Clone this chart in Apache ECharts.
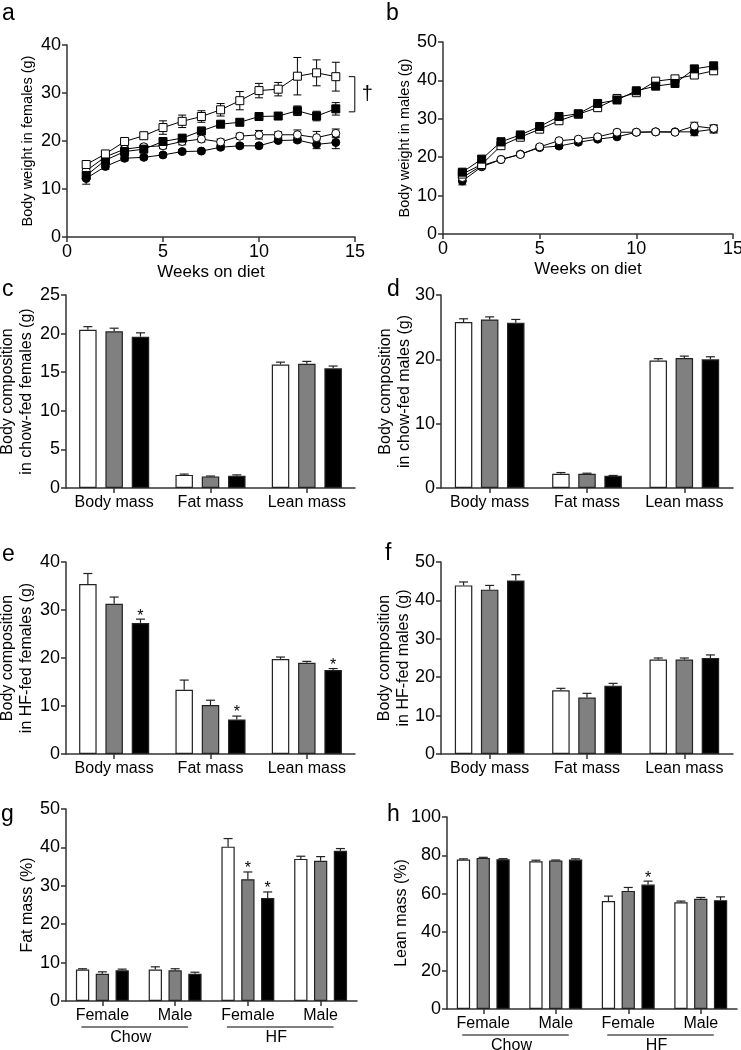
<!DOCTYPE html>
<html><head><meta charset="utf-8">
<script src="https://cdn.jsdelivr.net/npm/echarts@6/dist/echarts.min.js"></script>
<style>html,body{margin:0;padding:0;background:#fff}#c{width:741px;height:1050px}</style>
</head><body><div id="c"></div>
<script>
// ---------- DATA ----------
const weeks = [1,2,3,4,5,6,7,8,9,10,11,12,13,14];
const weekTicks = [0,5,10,15];
// Panel a: females body weight
const aOpenSq    = [15.1,17.3,19.9,21.1,22.8,24.1,25.1,26.5,28.4,30.5,30.8,33.5,34.2,33.4];
const aOpenSqErr = [0.6,0.5,0.5,0.5,1.4,1.3,1.2,1.3,1.9,1.5,1.4,3.9,2.7,3.0];
const aFillSq    = [12.8,16.0,17.8,18.3,19.9,20.6,22.1,23.5,23.9,25.1,25.2,26.3,25.2,26.7];
const aFillSqErr = [0.6,0.5,0.5,0.5,0.6,0.6,0.6,0.6,0.6,0.7,0.7,1.0,1.0,1.3];
const aOpenCi    = [13.8,16.7,18.3,18.8,19.0,19.9,20.4,19.8,21.0,21.3,21.3,21.3,20.7,21.6];
const aOpenCiErr = [0.6,0.5,0.5,0.5,0.6,0.7,0.6,0.6,0.6,0.9,0.6,1.0,1.3,0.9];
const aFillCi    = [12.2,14.7,16.4,16.6,17.1,17.8,17.9,18.7,19.0,19.0,20.1,20.2,19.3,19.7];
const aFillCiErr = [1.2,0.6,0.5,0.4,0.4,0.4,0.4,0.4,0.4,0.4,0.4,0.5,0.9,1.3];
// Panel b: males body weight
const bFillSq    = [16.1,19.5,24.0,25.8,28.0,30.6,31.3,34.0,34.9,37.3,38.5,39.2,43.0,43.8];
const bFillSqErr = [0.7,0.7,1.0,0.6,0.6,0.6,0.6,0.7,0.7,0.7,0.7,0.7,0.8,0.8];
const bOpenSq    = [15.6,18.1,23.0,25.2,27.3,29.5,31.2,32.9,35.3,36.8,39.8,40.4,41.4,42.5];
const bOpenSqErr = [0.7,0.6,0.8,0.6,0.6,0.6,0.6,0.7,0.7,0.7,0.7,0.7,0.8,0.8];
const bOpenCi    = [14.7,17.8,19.4,20.7,22.7,24.3,24.7,25.3,26.5,26.5,26.6,26.5,28.1,27.5];
const bOpenCiErr = [0.8,0.5,0.5,0.5,0.5,0.5,0.5,0.5,0.6,0.5,0.5,0.5,1.0,0.9];
const bFillCi    = [13.8,17.5,19.4,20.8,22.5,22.9,23.9,24.7,25.3,26.5,26.6,26.6,26.6,27.3];
const bFillCiErr = [1.0,0.5,0.5,0.5,0.5,0.5,0.5,0.5,0.5,0.5,0.5,0.5,1.0,1.0];
// Body composition categories
const compCats = ['Body mass','Fat mass','Lean mass'];
// c: chow-fed females
const cWhite=[20.5,1.7,16.0], cWhiteErr=[0.4,0.1,0.3];
const cGray =[20.3,1.5,16.1], cGrayErr =[0.4,0.05,0.3];
const cBlack=[19.6,1.6,15.5], cBlackErr=[0.5,0.1,0.3];
// d: chow-fed males
const dWhite=[25.8,2.2,19.8], dWhiteErr=[0.5,0.2,0.3];
const dGray =[26.2,2.2,20.2], dGrayErr =[0.4,0.1,0.3];
const dBlack=[25.7,1.9,20.0], dBlackErr=[0.5,0.05,0.4];
// e: HF-fed females
const eWhite=[35.4,13.4,19.8], eWhiteErr=[2.2,2.0,0.4];
const eGray =[31.3,10.2,19.0], eGrayErr =[1.4,1.0,0.3];
const eBlack=[27.3,7.2,17.5],  eBlackErr=[0.8,0.7,0.3];
const eBlackStar=[1,1,1];
// f: HF-fed males
const fWhite=[43.9,16.6,24.6], fWhiteErr=[0.9,0.5,0.4];
const fGray =[42.8,14.7,24.6], fGrayErr =[1.1,1.1,0.4];
const fBlack=[45.2,17.8,25.0], fBlackErr=[1.5,0.6,0.8];
// g, h: percentages
const sexCats = ['Female','Male','Female','Male'];
const dietGroups = ['Chow','HF'];
const gWhite=[8.2,8.2,40.2,37.0], gWhiteErr=[0.2,0.7,2.1,0.7];
const gGray =[7.1,8.0,31.7,36.5], gGrayErr =[0.5,0.4,1.9,1.1];
const gBlack=[8.0,7.1,26.8,39.1], gBlackErr=[0.3,0.4,1.6,0.6];
const gGrayStar=[0,0,1,0], gBlackStar=[0,0,1,0];
const hWhite=[77.8,76.9,56.2,55.6], hWhiteErr=[0.4,0.6,2.6,0.6];
const hGray =[78.7,77.3,61.5,57.4], hGrayErr =[0.3,0.3,1.8,0.7];
const hBlack=[78.0,77.8,64.8,56.7], hBlackErr=[0.3,0.4,1.8,1.7];
const hBlackStar=[0,0,1,0];
const panelLetters = ['a','b','c','d','e','f','g','h'];

// ---------- STYLE / LAYOUT ----------
const FF = '"Liberation Sans", Arial, Helvetica, sans-serif';
const AX = '#333';
const grids = [
  {left:67, top:45, width:288, height:192},
  {left:443, top:42, width:290, height:192},
  {left:66, top:295, width:289, height:193},
  {left:441, top:295, width:292, height:193},
  {left:66, top:562, width:289, height:192},
  {left:441, top:562, width:292, height:192},
  {left:66, top:809, width:291, height:192},
  {left:447, top:817, width:290, height:192}
];
const letterPos = [[2,14],[386,14],[2,290],[387,290],[2,555],[385,554],[1,815],[387,815]];

const xAxes = [], yAxes = [], series = [];

function axisBase(){
  return {
    axisLine:{show:true, onZero:false, lineStyle:{color:AX, width:1.5}},
    axisTick:{show:true, inside:false, length:5, lineStyle:{color:AX, width:1.5}},
    splitLine:{show:false},
    nameMoveOverlap:false
  };
}
function yAxis(gi, max, interval, name, nameGap, nameSize, labelSize){
  yAxes.push(Object.assign(axisBase(), {
    type:'value', gridIndex:gi, min:0, max:max, interval:interval,
    axisLabel:{color:'#000', fontFamily:FF, fontSize:labelSize, margin:6},
    name:name, nameLocation:'middle', nameGap:nameGap,
    nameTextStyle:{color:'#000', fontFamily:FF, fontSize:nameSize, lineHeight:Math.round(nameSize*1.18)}
  }));
}
function xValueAxis(gi){
  xAxes.push(Object.assign(axisBase(), {
    type:'value', gridIndex:gi, min:weekTicks[0], max:weekTicks[weekTicks.length-1], interval:weekTicks[1]-weekTicks[0],
    axisLabel:{color:'#000', fontFamily:FF, fontSize:18, margin:6},
    name:'Weeks on diet', nameLocation:'middle', nameGap:27,
    nameTextStyle:{color:'#000', fontFamily:FF, fontSize:17}
  }));
}
function xCatAxis(gi, cats){
  const ax = Object.assign(axisBase(), {
    type:'category', gridIndex:gi, data:cats, boundaryGap:true,
    axisLabel:{color:'#000', fontFamily:FF, fontSize:16, margin:7, interval:0}
  });
  ax.axisTick.alignWithLabel = true;
  ax.axisTick.interval = 0;
  xAxes.push(ax);
}

function lineErr(gi, vals, errs, z){
  series.push({
    type:'custom', xAxisIndex:gi, yAxisIndex:gi, z:z, silent:true,
    encode:{x:0, y:1},
    data: weeks.map((w,i)=>[w, vals[i], errs[i]]),
    renderItem:function(params, api){
      const x=api.value(0), v=api.value(1), e=api.value(2);
      const t=api.coord([x, v+e]), b=api.coord([x, v-e]);
      const cw=4, st={stroke:'#000', lineWidth:1};
      return {type:'group', children:[
        {type:'line', shape:{x1:t[0],y1:t[1],x2:b[0],y2:b[1]}, style:st},
        {type:'line', shape:{x1:t[0]-cw,y1:t[1],x2:t[0]+cw,y2:t[1]}, style:st},
        {type:'line', shape:{x1:b[0]-cw,y1:b[1],x2:b[0]+cw,y2:b[1]}, style:st}
      ]};
    }
  });
}
function lineSer(gi, vals, symbol, filled, z){
  series.push({
    type:'line', xAxisIndex:gi, yAxisIndex:gi, z:z,
    data: weeks.map((w,i)=>[w, vals[i]]),
    symbol:symbol, symbolSize:8, showSymbol:true, showAllSymbol:true,
    itemStyle:{color: filled?'#000':'#fff', borderColor:'#000', borderWidth:1},
    lineStyle:{color:'#000', width:1},
    emphasis:{disabled:true}
  });
}
function linePanel(gi, sets){
  xValueAxis(gi);
  sets.forEach((s,k)=>{
    lineErr(gi, s[0], s[1], 2+k*2);
    lineSer(gi, s[0], s[2], s[3], 3+k*2);
  });
}

function barPanel(gi, cats, groups, barW, gap){
  xCatAxis(gi, cats);
  const colors=['#ffffff','#808080','#000000'];
  groups.forEach((g,k)=>{
    series.push({
      type:'bar', xAxisIndex:gi, yAxisIndex:gi, z:2,
      data:g[0], barWidth:barW, barGap:(gap/barW*100).toFixed(1)+'%',
      itemStyle:{color:colors[k], borderColor:'#222', borderWidth:1.2},
      emphasis:{disabled:true}
    });
  });
  groups.forEach((g,k)=>{
    const off=(k-1)*(barW+gap);
    const star=g[2]||cats.map(()=>0);
    series.push({
      type:'custom', xAxisIndex:gi, yAxisIndex:gi, z:5, silent:true,
      encode:{x:0, y:1},
      data: g[0].map((v,i)=>[i, v, g[1][i], star[i]]),
      renderItem:function(params, api){
        const i=api.value(0), v=api.value(1), e=api.value(2), s=api.value(3);
        const p=api.coord([i, v]), t=api.coord([i, v+e]);
        const x=p[0]+off, cw=4.5, st={stroke:'#222', lineWidth:1.2};
        const ch=[
          {type:'line', shape:{x1:x,y1:p[1],x2:x,y2:t[1]}, style:st},
          {type:'line', shape:{x1:x-cw,y1:t[1],x2:x+cw,y2:t[1]}, style:st}
        ];
        if(s){
          ch.push({type:'text', x:x, y:t[1]-3, style:{text:'*', fontSize:16, fontFamily:FF, fill:'#000', align:'center', verticalAlign:'middle'}});
        }
        return {type:'group', children:ch};
      }
    });
  });
}

// ---------- BUILD ----------
yAxis(0, 40, 10, 'Body weight in females (g)', 31, 14.5, 18);
linePanel(0, [
  [aFillCi, aFillCiErr, 'circle', true],
  [aOpenCi, aOpenCiErr, 'circle', false],
  [aFillSq, aFillSqErr, 'rect', true],
  [aOpenSq, aOpenSqErr, 'rect', false]
]);
yAxis(1, 50, 10, 'Body weight in males (g)', 30, 14.5, 18);
linePanel(1, [
  [bFillCi, bFillCiErr, 'circle', true],
  [bOpenCi, bOpenCiErr, 'circle', false],
  [bOpenSq, bOpenSqErr, 'rect', false],
  [bFillSq, bFillSqErr, 'rect', true]
]);
yAxis(2, 25, 5, 'Body composition\nin chow-fed females (g)', 30, 16, 18);
barPanel(2, compCats, [[cWhite,cWhiteErr],[cGray,cGrayErr],[cBlack,cBlackErr]], 17.5, 8.8);
yAxis(3, 30, 10, 'Body composition\nin chow-fed males (g)', 27, 16, 18);
barPanel(3, compCats, [[dWhite,dWhiteErr],[dGray,dGrayErr],[dBlack,dBlackErr]], 17.5, 8.6);
yAxis(4, 40, 10, 'Body composition\nin HF-fed females (g)', 30, 16, 18);
barPanel(4, compCats, [[eWhite,eWhiteErr],[eGray,eGrayErr],[eBlack,eBlackErr,eBlackStar]], 17.5, 8.8);
yAxis(5, 50, 10, 'Body composition\nin HF-fed males (g)', 28, 16, 18);
barPanel(5, compCats, [[fWhite,fWhiteErr],[fGray,fGrayErr],[fBlack,fBlackErr]], 17.5, 8.6);
yAxis(6, 50, 10, 'Fat mass (%)', 29, 16, 18);
barPanel(6, sexCats, [[gWhite,gWhiteErr],[gGray,gGrayErr,gGrayStar],[gBlack,gBlackErr,gBlackStar]], 13.3, 6.5);
yAxis(7, 100, 20, 'Lean mass (%)', 36, 16, 18);
barPanel(7, sexCats, [[hWhite,hWhiteErr],[hGray,hGrayErr],[hBlack,hBlackErr,hBlackStar]], 13.3, 6.5);

const option = {
  animation:false,
  backgroundColor:'#fff',
  textStyle:{fontFamily:FF},
  grid: grids.map(g=>Object.assign({containLabel:false, outerBoundsMode:'none'}, g)),
  xAxis:xAxes, yAxis:yAxes, series:series
};
const chart = echarts.init(document.getElementById('c'), null, {renderer:'canvas'});
chart.setOption(option);

// ---------- ANNOTATIONS (positions from the library's scales) ----------
const gfx = [];
panelLetters.forEach((L,i)=>{
  gfx.push({type:'text', x:letterPos[i][0], y:letterPos[i][1],
    style:{text:L, fontSize:23, fontFamily:FF, fill:'#000', align:'left', verticalAlign:'middle'}});
});
// Chow / HF group lines in g and h
[6,7].forEach(gi=>{
  const y0 = chart.convertToPixel({yAxisIndex:gi}, 0);
  [[0,1],[2,3]].forEach((span,j)=>{
    const x1 = chart.convertToPixel({xAxisIndex:gi}, span[0]) - 21;
    const x2 = chart.convertToPixel({xAxisIndex:gi}, span[1]) + 13;
    gfx.push({type:'line', shape:{x1:x1, y1:y0+26, x2:x2, y2:y0+26}, style:{stroke:'#000', lineWidth:1}});
    gfx.push({type:'text', x:(x1+x2)/2-4, y:y0+37,
      style:{text:dietGroups[j], fontSize:16, fontFamily:FF, fill:'#000', align:'center', verticalAlign:'middle'}});
  });
});
// Dagger bracket in a
(function(){
  const last = weeks.length-1;
  const xb = chart.convertToPixel({xAxisIndex:0}, weeks[last]) + 19;
  const y1 = chart.convertToPixel({yAxisIndex:0}, aOpenSq[last]);
  const y2 = chart.convertToPixel({yAxisIndex:0}, aFillSq[last]) + 3;
  gfx.push({type:'polyline', shape:{points:[[xb-6,y1],[xb,y1],[xb,y2],[xb-6,y2]]}, style:{stroke:'#000', lineWidth:1, fill:null}});
  gfx.push({type:'text', x:xb+7, y:(y1+y2)/2,
    style:{text:'†', fontSize:20, fontFamily:FF, fill:'#000', align:'left', verticalAlign:'middle'}});
})();
chart.setOption({graphic:gfx});
</script></body></html>
